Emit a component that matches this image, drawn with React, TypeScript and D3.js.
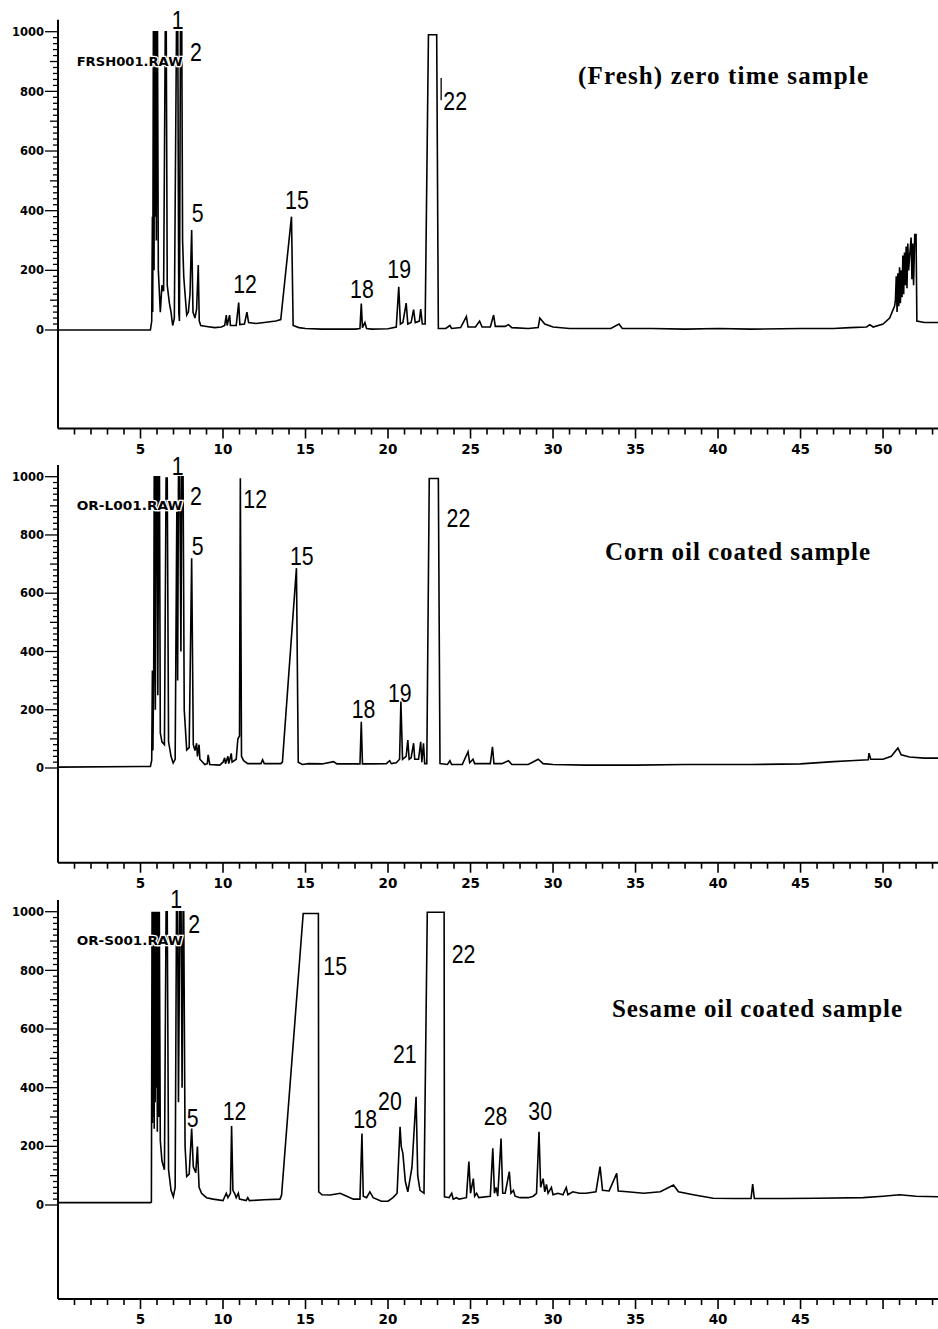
import React from 'react';
import * as d3 from 'd3';

type Pt = [number, number];

const W = 938;
const H = 1329;

// retention time axis (minutes)
const TIME_DOMAIN: [number, number] = [0, 53.33];
const TIME_TICKS = d3.range(1, 54);
const TIME_LABELS_FRESH = [5, 10, 15, 20, 25, 30, 35, 40, 45, 50];
const TIME_LABELS_CORN = [5, 10, 15, 20, 25, 30, 35, 40, 45, 50];
const TIME_LABELS_SESAME = [5, 10, 15, 20, 25, 30, 35, 40, 45];
const INTENSITY_LABELS = [0, 200, 400, 600, 800, 1000];

const PANEL_TITLES = ['(Fresh) zero time sample', 'Corn oil coated sample', 'Sesame oil coated sample'];
const FILE_NAMES = ['FRSH001.RAW', 'OR-L001.RAW', 'OR-S001.RAW'];

// traces: [time (min), response]
const fresh: Pt[] = [
  [0, 0], [5.6, 0], [5.68, 30], [5.72, 380], [5.74, 60], [5.78, 1000], [5.8, 1000], [5.82, 200], [5.85, 1000],
  [5.88, 380], [5.9, 1000], [5.93, 1000], [5.96, 300], [6.0, 1000], [6.03, 1000], [6.08, 200], [6.15, 120],
  [6.2, 60], [6.3, 150], [6.4, 130], [6.5, 1000], [6.56, 1000], [6.62, 150], [6.75, 90], [6.85, 60], [6.95, 15],
  [7.05, 40], [7.18, 1000], [7.26, 1000], [7.32, 60], [7.36, 30], [7.42, 1000], [7.5, 1000], [7.55, 300],
  [7.62, 180], [7.7, 120], [7.8, 50], [7.9, 60], [8.0, 120], [8.1, 335], [8.18, 60], [8.3, 40], [8.4, 70],
  [8.5, 218], [8.56, 30], [8.65, 15], [9.0, 12], [9.5, 8], [9.9, 10], [10.1, 15], [10.2, 50], [10.25, 15],
  [10.4, 50], [10.45, 15], [10.8, 15], [10.95, 92], [11.02, 18], [11.3, 20], [11.45, 60], [11.55, 25],
  [12, 22], [12.5, 25], [13.2, 30], [13.5, 35], [14.15, 380], [14.25, 15], [14.6, 8], [15, 5], [16, 3],
  [17, 3], [18, 3], [18.3, 5], [18.38, 89], [18.45, 8], [18.6, 25], [18.7, 5], [19, 3], [20, 4], [20.5, 10],
  [20.65, 145], [20.75, 20], [20.9, 25], [21.1, 90], [21.2, 20], [21.4, 25], [21.55, 68], [21.65, 25],
  [21.9, 30], [21.98, 70], [22.08, 20], [22.25, 20], [22.45, 990], [22.95, 990], [23.05, 5], [23.5, 5],
  [23.75, 15], [23.85, 5], [24.4, 8], [24.75, 45], [24.85, 10], [25.3, 10], [25.55, 30], [25.7, 10],
  [26.2, 10], [26.4, 50], [26.5, 12], [27.1, 12], [27.3, 18], [27.5, 8], [28.5, 5], [29.1, 8], [29.2, 40],
  [29.5, 20], [30, 10], [31, 5], [32, 5], [33.5, 5], [34, 20], [34.2, 5], [36, 5], [38, 3], [40, 5], [42, 3],
  [45, 5], [47, 5], [48, 8], [49, 10], [49.2, 18], [49.4, 10], [50, 20], [50.4, 40], [50.7, 80], [50.75, 100],
  [50.8, 180], [50.85, 60], [50.9, 190], [50.95, 80], [51.0, 210], [51.05, 90], [51.1, 200], [51.15, 110],
  [51.2, 250], [51.25, 120], [51.3, 260], [51.35, 150], [51.4, 280], [51.45, 140], [51.5, 290], [51.55, 200],
  [51.6, 240], [51.7, 310], [51.75, 170], [51.8, 290], [51.85, 150], [51.92, 320], [52.0, 320], [52.05, 30],
  [52.5, 25], [53.33, 25],
];

const corn: Pt[] = [
  [0, 3], [5.0, 5], [5.6, 5], [5.68, 27], [5.72, 335], [5.75, 60], [5.8, 330], [5.83, 1000], [5.87, 1000],
  [5.9, 200], [5.94, 1000], [6.0, 1000], [6.05, 250], [6.1, 1000], [6.15, 1000], [6.2, 120], [6.3, 90],
  [6.45, 80], [6.55, 995], [6.62, 995], [6.7, 90], [6.85, 40], [6.98, 17], [7.1, 30], [7.2, 880], [7.25, 300],
  [7.3, 1000], [7.38, 1000], [7.45, 400], [7.5, 1000], [7.58, 1000], [7.65, 200], [7.8, 62], [7.95, 70],
  [8.1, 720], [8.2, 80], [8.3, 60], [8.4, 85], [8.45, 40], [8.55, 80], [8.6, 30], [8.9, 12], [9.05, 15],
  [9.1, 45], [9.2, 12], [9.8, 10], [10.0, 20], [10.1, 35], [10.15, 15], [10.3, 40], [10.35, 15], [10.5, 50],
  [10.55, 20], [10.8, 30], [10.9, 100], [11.0, 110], [11.05, 995], [11.12, 40], [11.25, 25], [11.5, 15],
  [12.3, 15], [12.4, 28], [12.5, 15], [13.5, 15], [13.6, 20], [14.45, 686], [14.56, 20], [14.8, 12],
  [15.2, 15], [16, 14], [16.7, 22], [16.9, 14], [17.5, 14], [18.3, 14], [18.38, 159], [18.45, 14], [19, 14],
  [19.9, 15], [20.1, 25], [20.2, 15], [20.5, 18], [20.7, 30], [20.78, 228], [20.88, 30], [21.1, 40],
  [21.2, 96], [21.28, 30], [21.4, 35], [21.55, 85], [21.62, 30], [21.85, 30], [21.98, 90], [22.05, 20],
  [22.15, 85], [22.22, 15], [22.35, 15], [22.5, 994], [23.05, 994], [23.15, 15], [23.6, 12], [23.75, 25],
  [23.85, 12], [24.5, 12], [24.85, 56], [24.95, 18], [25.15, 30], [25.25, 15], [26.2, 15], [26.33, 73],
  [26.42, 15], [26.9, 15], [27.3, 25], [27.5, 12], [28.5, 12], [29.1, 30], [29.4, 15], [30, 12], [32, 10],
  [35, 10], [38, 12], [40, 12], [42, 12], [45, 14], [47, 22], [48, 25], [49.1, 28], [49.15, 51], [49.25, 30],
  [50, 30], [50.5, 40], [50.9, 69], [51.1, 45], [51.6, 38], [52.5, 34], [53.33, 34],
];

const sesame: Pt[] = [
  [0, 8], [5.6, 8], [5.66, 10], [5.7, 1000], [5.72, 280], [5.75, 1000], [5.77, 300], [5.8, 1000], [5.83, 260],
  [5.86, 1000], [5.89, 350], [5.92, 1000], [5.95, 400], [5.98, 1000], [6.02, 250], [6.06, 1000], [6.1, 300],
  [6.14, 1000], [6.2, 220], [6.3, 150], [6.45, 120], [6.55, 1000], [6.62, 1000], [6.7, 120], [6.85, 50],
  [6.99, 28], [7.1, 60], [7.18, 1000], [7.25, 1000], [7.3, 350], [7.38, 1000], [7.46, 1000], [7.52, 400],
  [7.58, 1000], [7.62, 1000], [7.7, 200], [7.8, 97], [7.95, 105], [8.1, 261], [8.2, 130], [8.35, 110],
  [8.45, 199], [8.55, 60], [8.7, 40], [9.0, 25], [9.4, 20], [10.0, 15], [10.2, 40], [10.3, 25], [10.45, 40],
  [10.52, 269], [10.6, 50], [10.7, 40], [10.8, 25], [10.93, 40], [11.0, 20], [11.4, 15], [11.5, 25],
  [11.6, 15], [12.5, 18], [13.45, 20], [13.55, 34], [14.86, 994], [15.78, 994], [15.8, 45], [16.0, 35],
  [16.5, 34], [17.1, 40], [17.5, 30], [17.9, 20], [18.3, 20], [18.42, 244], [18.5, 30], [18.7, 25],
  [18.9, 45], [19.1, 25], [19.6, 13], [20.0, 13], [20.3, 25], [20.55, 40], [20.73, 267], [20.8, 200],
  [20.9, 176], [21.05, 80], [21.2, 45], [21.45, 128], [21.7, 369], [21.8, 100], [21.94, 50], [22.18, 40],
  [22.38, 998], [23.4, 998], [23.42, 28], [23.7, 25], [23.86, 40], [23.95, 20], [24.15, 25], [24.3, 20],
  [24.75, 25], [24.9, 148], [25.0, 40], [25.17, 90], [25.25, 30], [25.37, 40], [25.5, 25], [26.2, 30],
  [26.35, 193], [26.45, 40], [26.55, 60], [26.65, 30], [26.85, 227], [26.95, 40], [27.1, 40], [27.35, 114],
  [27.45, 40], [27.6, 50], [27.7, 30], [28.0, 25], [28.5, 25], [28.8, 30], [29.0, 40], [29.15, 250],
  [29.25, 60], [29.4, 90], [29.5, 45], [29.6, 70], [29.7, 40], [29.9, 60], [30.0, 35], [30.3, 40], [30.6, 35],
  [30.8, 60], [30.9, 35], [31.2, 45], [31.6, 40], [32.0, 40], [32.6, 45], [32.85, 131], [33.0, 50],
  [33.4, 48], [33.86, 108], [33.95, 48], [34.5, 45], [35.5, 40], [36.5, 45], [37.3, 68], [37.6, 45],
  [38.5, 35], [39.7, 23], [41, 22], [42.0, 22], [42.1, 71], [42.2, 22], [44, 22], [46, 23], [48.8, 25],
  [50, 30], [51, 35], [52, 30], [53.33, 28],
];

// peak numbers: label, time, response (anchor = left / baseline of the text)
const freshPeaks: { label: string; t: number; v: number }[] = [
  { label: '1', t: 6.9, v: 1009 }, { label: '2', t: 8.0, v: 903 }, { label: '5', t: 8.1, v: 362 },
  { label: '12', t: 10.62, v: 123 }, { label: '15', t: 13.76, v: 407 }, { label: '18', t: 17.7, v: 106 },
  { label: '19', t: 19.96, v: 173 }, { label: '22', t: 23.35, v: 736 },
];
const cornPeaks = [
  { label: '1', t: 6.9, v: 1006 }, { label: '2', t: 8.0, v: 903 }, { label: '5', t: 8.1, v: 731 },
  { label: '12', t: 11.23, v: 891 }, { label: '15', t: 14.06, v: 697 }, { label: '18', t: 17.8, v: 171 },
  { label: '19', t: 20.0, v: 228 }, { label: '22', t: 23.55, v: 828 },
];
const sesamePeaks = [
  { label: '1', t: 6.8, v: 1011 }, { label: '2', t: 7.9, v: 926 }, { label: '5', t: 7.8, v: 267 },
  { label: '12', t: 9.98, v: 290 }, { label: '15', t: 16.08, v: 784 }, { label: '18', t: 17.9, v: 262 },
  { label: '20', t: 19.4, v: 324 }, { label: '21', t: 20.3, v: 483 }, { label: '22', t: 23.86, v: 824 },
  { label: '28', t: 25.8, v: 273 }, { label: '30', t: 28.5, v: 290 },
];

// panel layout (pixels): y of 1000, y of 0, y of the time axis
const LAYOUT = [
  { y1000: 31.7, y0: 330, axisY: 428.5, titleX: 578, titleY: 84, titleW: 290 },
  { y1000: 476.7, y0: 768, axisY: 862.7, titleX: 605, titleY: 560, titleW: 265 },
  { y1000: 911.7, y0: 1205, axisY: 1299, titleX: 612, titleY: 1017, titleW: 290 },
];

const PANELS = [
  { data: fresh, peaks: freshPeaks, timeLabels: TIME_LABELS_FRESH },
  { data: corn, peaks: cornPeaks, timeLabels: TIME_LABELS_CORN },
  { data: sesame, peaks: sesamePeaks, timeLabels: TIME_LABELS_SESAME },
];

const x = d3.scaleLinear().domain(TIME_DOMAIN).range([58, 938]);

function Panel({ idx }: { idx: number }) {
  const L = LAYOUT[idx];
  const P = PANELS[idx];
  const yMin = (-(L.axisY - L.y0) * 1000) / (L.y0 - L.y1000);
  const y = d3.scaleLinear().domain([yMin, 1000]).range([L.axisY, L.y1000]);
  const line = d3
    .line<Pt>()
    .x((d) => x(d[0]))
    .y((d) => y(d[1]));
  const x0 = x(0);
  const minorY = d3.range(0, 1001, 20);
  return (
    <g>
      {/* axes */}
      <line x1={x0} x2={x0} y1={y(1040)} y2={L.axisY} stroke="#000" strokeWidth={2} />
      <line x1={x0} x2={x(TIME_DOMAIN[1])} y1={L.axisY} y2={L.axisY} stroke="#000" strokeWidth={2} />
      {minorY.map((v) => {
        const len = v % 200 === 0 ? 13 : v % 100 === 0 ? 8 : 5;
        return <line key={'yt' + v} x1={x0 - len} x2={x0} y1={y(v)} y2={y(v)} stroke="#000" strokeWidth={1.3} />;
      })}
      {INTENSITY_LABELS.map((v) => (
        <text
          key={'yl' + v}
          x={x0 - 14}
          y={y(v)}
          dy="0.36em"
          textAnchor="end"
          fontFamily="DejaVu Sans, sans-serif"
          fontWeight="bold"
          fontSize={11.5}
        >
          {v}
        </text>
      ))}
      {TIME_TICKS.map((t) => {
        const len = t % 5 === 0 ? 10 : 6;
        return (
          <line key={'xt' + t} x1={x(t)} x2={x(t)} y1={L.axisY} y2={L.axisY + len} stroke="#000" strokeWidth={1.6} />
        );
      })}
      {P.timeLabels.map((t) => (
        <text
          key={'xl' + t}
          x={x(t)}
          y={L.axisY + 25}
          textAnchor="middle"
          fontFamily="DejaVu Sans, sans-serif"
          fontWeight="bold"
          fontSize={13.5}
        >
          {t}
        </text>
      ))}
      {/* trace */}
      <path d={line(P.data) || ''} fill="none" stroke="#000" strokeWidth={1.6} strokeLinejoin="miter" />
      {/* file name */}
      <text
        x={x(1.13)}
        y={L.y0 - (L.y0 - L.y1000) * 0.885}
        fontFamily="DejaVu Sans, sans-serif"
        fontWeight="bold"
        fontSize={12}
        textLength={106}
        lengthAdjust="spacingAndGlyphs"
        stroke="#fff"
        strokeWidth={2.5}
        paintOrder="stroke"
      >
        {FILE_NAMES[idx]}
      </text>
      {/* peak numbers */}
      {P.peaks.map((p) => (
        <g key={'pk' + p.label} transform={`translate(${x(p.t)},${y(p.v)}) scale(0.82,1)`}>
          <text x={0} y={0} fontFamily="Liberation Sans, Arial, sans-serif" fontSize={26}>
            {p.label}
          </text>
        </g>
      ))}
      {idx === 0 && <line x1={x(23.22)} x2={x(23.22)} y1={y(845)} y2={y(770)} stroke="#000" strokeWidth={1.3} />}
      {/* title */}
      <text
        x={L.titleX}
        y={L.titleY}
        fontFamily="Liberation Serif, Times New Roman, serif"
        fontWeight="bold"
        fontSize={25}
        textLength={L.titleW}
        lengthAdjust="spacing"
      >
        {PANEL_TITLES[idx]}
      </text>
    </g>
  );
}

export default function App() {
  return (
    <svg
      width={W}
      height={H}
      viewBox={`0 0 ${W} ${H}`}
      style={{ position: 'absolute', left: 0, top: 0, background: '#fff' }}
    >
      <rect width={W} height={H} fill="#fff" />
      {[0, 1, 2].map((i) => (
        <Panel key={i} idx={i} />
      ))}
    </svg>
  );
}
